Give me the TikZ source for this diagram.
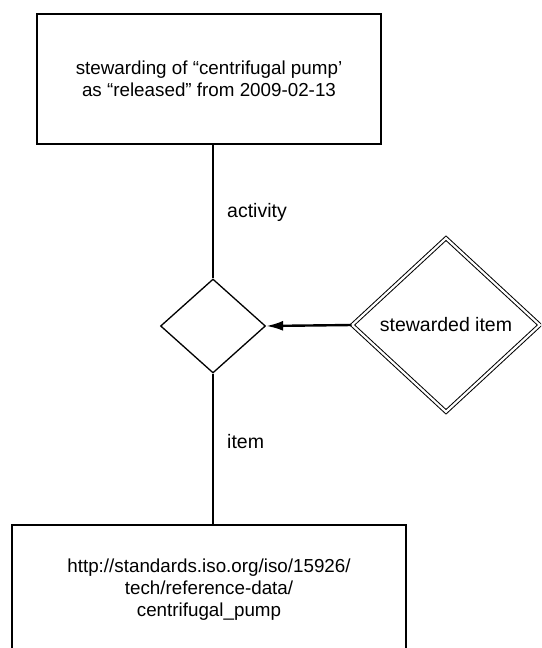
\documentclass[tikz,border=0pt]{standalone}
\usepackage{fontspec}
\setmainfont{Liberation Sans}
\usetikzlibrary{shapes.geometric,arrows.meta}
\begin{document}
\begin{tikzpicture}[x=1pt,y=-1pt,
  thingbox/.style={draw,line width=1.4pt,minimum width=#1,minimum height=130pt,
    inner sep=0pt,align=center,font=\fontsize{18.8}{22}\selectfont},
  relation/.style={draw,diamond,line width=1.3pt,inner sep=0pt},
  roleline/.style={line width=1.4pt},
  rolelabel/.style={anchor=west,inner sep=0pt,font=\fontsize{19.5}{22}\selectfont},
  classof/.style={draw,diamond,double,double distance=2.2pt,line width=1pt,
    inner sep=0pt,font=\fontsize{19.5}{22}\selectfont}]
\useasboundingbox (0,0) rectangle (541,648);
\clip (0,0) rectangle (541,648);
\fill[white] (0,0) rectangle (541,648);

\node[thingbox=344pt] (top) at (209,79)
  {stewarding of “centrifugal pump’\\as “released” from 2009-02-13};
\node[thingbox=394pt] (bottom) at (209,590)
  {http://standards.iso.org/iso/15926/\\tech/reference-data/\\centrifugal\_pump};

\node[relation,minimum width=105pt,minimum height=94pt] (rel) at (213,326) {};
\node[classof,minimum width=188pt,minimum height=174pt] (cls) at (446,325) {stewarded item};

\draw[roleline] (rel.north) -- (rel.north |- top.south);
\draw[roleline] (rel.south) -- (rel.south |- bottom.north);
\node[rolelabel] (lact) at (227,212) {activity};
\node[rolelabel] (litem) at (227,442) {item};

\draw[line width=2.4pt,-{Latex[length=17pt,width=10pt]}] (cls.west) -- (rel.east);
\end{tikzpicture}
\end{document}
